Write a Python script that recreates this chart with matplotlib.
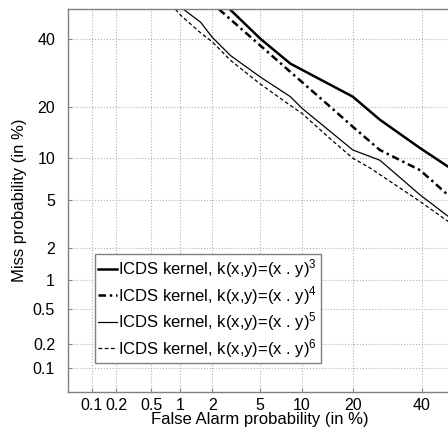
import matplotlib
matplotlib.use("Agg")
import matplotlib.pyplot as plt
from statistics import NormalDist

plt.rcParams['font.family'] = ['Liberation Sans', 'DejaVu Sans']
plt.rcParams['mathtext.fontset'] = 'custom'
plt.rcParams['mathtext.rm'] = 'Liberation Sans'
plt.rcParams['mathtext.it'] = 'Liberation Sans'

# DET curves, values in %
fa_k3 = [2.86, 5.05, 8.35, 19.9, 27.0, 39.5, 48.9]
miss_k3 = [50.0, 40.0, 32.0, 22.6, 17.1, 11.6, 8.8]

fa_k4 = [2.3, 4.85, 8.35, 15.0, 19.9, 27.0, 39.5, 48.9]
miss_k4 = [50.0, 38.4, 29.5, 20.0, 15.6, 11.3, 8.3, 5.5]

fa_k5 = [1.07, 1.56, 2.0, 2.9, 5.05, 8.35, 10.0, 19.9, 27.0, 39.5, 48.9]
miss_k5 = [50.0, 45.6, 40.5, 34.5, 28.0, 22.6, 19.7, 11.3, 9.7, 5.5, 3.75]

fa_k6 = [0.89, 1.0, 1.56, 2.0, 2.9, 5.05, 8.35, 10.0, 15.0, 19.9, 24.3, 39.5, 48.9]
miss_k6 = [50.0, 48.0, 42.0, 39.0, 33.0, 26.0, 20.4, 18.5, 13.2, 10.0, 8.6, 4.9, 3.4]

tick_vals = [0.1, 0.2, 0.5, 1, 2, 5, 10, 20, 40]
tick_labels = ['0.1', '0.2', '0.5', '1', '2', '5', '10', '20', '40']

labels = [r'ICDS kernel, k(x,y)=(x . y)$^{3}$',
          r'ICDS kernel, k(x,y)=(x . y)$^{4}$',
          r'ICDS kernel, k(x,y)=(x . y)$^{5}$',
          r'ICDS kernel, k(x,y)=(x . y)$^{6}$']

nd = NormalDist()


def probit(vals):
    return [nd.inv_cdf(v / 100.0) for v in vals]


fig = plt.figure(figsize=(4.48, 4.30), dpi=100)
W, H = 448.0, 430.0
x0, x1 = 68.3, 451.2
y0, y1 = 9.3, 391.7
ax = fig.add_axes([x0 / W, 1 - y1 / H, (x1 - x0) / W, (y1 - y0) / H])

ax.plot(probit(fa_k3), probit(miss_k3), color='black', lw=1.8, ls='-', label=labels[0])
ax.plot(probit(fa_k4), probit(miss_k4), color='black', lw=1.8, ls=(0, (3, 1.5, 1, 1.5)), label=labels[1])
ax.plot(probit(fa_k5), probit(miss_k5), color='black', lw=0.9, ls='-', label=labels[2])
ax.plot(probit(fa_k6), probit(miss_k6), color='black', lw=0.9, ls=(0, (3, 2)), label=labels[3])

lim = probit([0.05, 50])
ax.set_xlim(lim)
ax.set_ylim(lim)
ax.set_xticks(probit(tick_vals))
ax.set_xticklabels(tick_labels)
ax.set_yticks(probit(tick_vals))
ax.set_yticklabels(tick_labels)
ax.tick_params(direction='in', length=3, color='#888888', labelsize=11.5, pad=9.5)
ax.tick_params(axis='x', pad=4.5)
ax.grid(True, color='#b0b0b0', ls=':', lw=0.8)
for s in ax.spines.values():
    s.set_color('#808080')
    s.set_linewidth(1.0)

ax.set_xlabel('False Alarm probability (in %)', fontsize=12, labelpad=-1)
ax.set_ylabel('Miss probability (in %)', fontsize=12, labelpad=4)

leg = ax.legend(loc='lower left', bbox_to_anchor=(95 / W, 1 - 363 / H),
                bbox_transform=fig.transFigure, borderaxespad=0,
                fontsize=12, handlelength=1.1, handletextpad=0.1,
                labelspacing=0.22, borderpad=0.2, fancybox=False, framealpha=1)
leg.get_frame().set_edgecolor('#808080')
leg.get_frame().set_linewidth(1.0)

fig.savefig('out.png', dpi=100)
